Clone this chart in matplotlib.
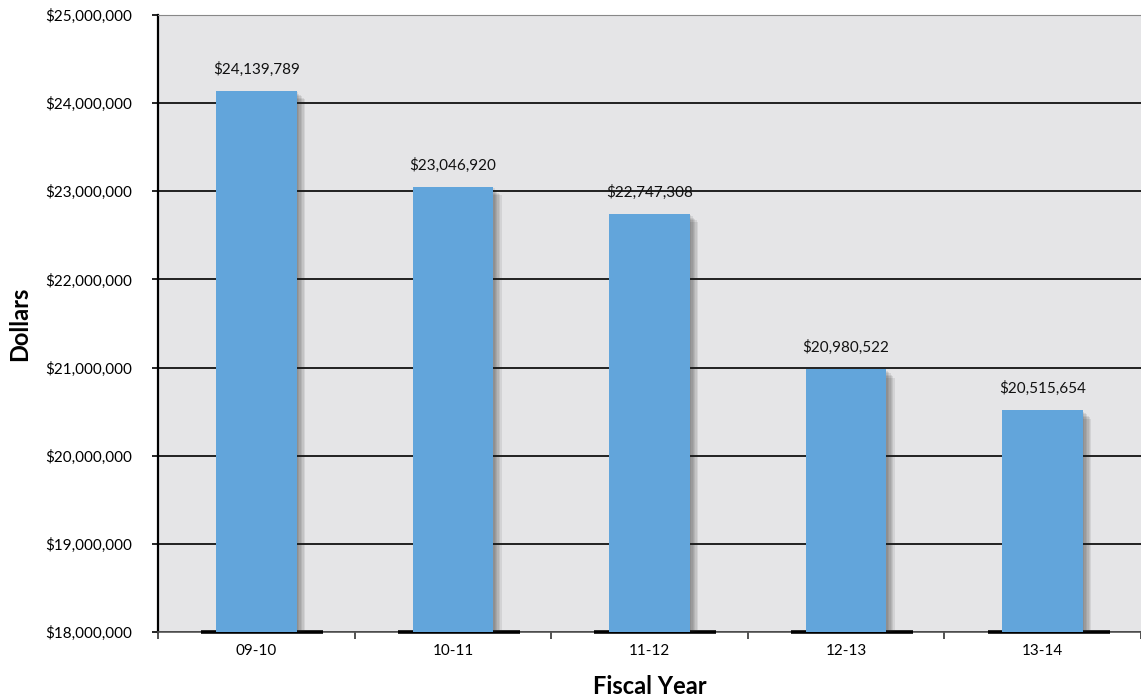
import matplotlib.pyplot as plt
import matplotlib.patheffects as pe
from matplotlib.ticker import FuncFormatter, FixedLocator
import numpy as np

years = ['09-10', '10-11', '11-12', '12-13', '13-14']
dollars = [24139789, 23046920, 22747308, 20980522, 20515654]

plt.rcParams['font.family'] = ['Lato', 'DejaVu Sans']

fig = plt.figure(figsize=(11.41, 6.98), dpi=100)
ax = fig.add_axes([0.1385, 0.0946, 0.8615, 0.884])
ax.set_facecolor('#e5e5e7')

x = np.arange(len(years))
bars = ax.bar(x, dollars, width=0.41, color='#62a5db', zorder=3)

# soft drop shadow made of a few faint offset copies
shadow = [pe.SimplePatchShadow(offset=(d, -d), shadow_rgbFace='#222222', alpha=0.09)
          for d in (1, 2, 3, 4, 5, 6)]
for b in bars:
    b.set_path_effects(shadow + [pe.Normal()])

for xi, v in zip(x, dollars):
    ax.annotate('${:,}'.format(v), (xi, v), xytext=(0, 10), textcoords='offset points',
                ha='center', va='bottom', fontsize=11, color='#111111', zorder=4)

ax.set_xlim(-0.5, len(years) - 0.5)
ax.set_ylim(18000000, 25000000)
# dark base marks where the bar shadows hit the axis
ax.hlines([18000000] * len(x), x - 0.28, x + 0.34, color='black', linewidth=2.6,
          zorder=2.7, clip_on=False)
ax.set_yticks(np.arange(18000000, 25000001, 1000000))
ax.yaxis.set_major_formatter(FuncFormatter(lambda v, p: '${:,.0f}'.format(v)))
ax.grid(axis='y', color='black', linewidth=1.2, zorder=1)

ax.set_xticks(x)
ax.set_xticklabels(years, fontsize=11)
ax.xaxis.set_minor_locator(FixedLocator(np.arange(-0.5, len(years), 1.0)))
ax.tick_params(axis='x', which='major', length=0, pad=9)
ax.tick_params(axis='x', which='minor', length=5, width=1.2, color='#333333')
ax.tick_params(axis='y', length=4, width=1.2, labelsize=11, pad=15)

ax.spines['left'].set_linewidth(1.6)
ax.spines['bottom'].set_color('#555555')
ax.spines['bottom'].set_linewidth(1.2)
ax.spines['top'].set_color('#888888')
ax.spines['right'].set_visible(False)

ax.set_ylabel('Dollars', fontsize=17, fontweight='bold', labelpad=10)
ax.set_xlabel('Fiscal Year', fontsize=17, fontweight='bold', labelpad=12)

fig.savefig('out.png', dpi=100)
